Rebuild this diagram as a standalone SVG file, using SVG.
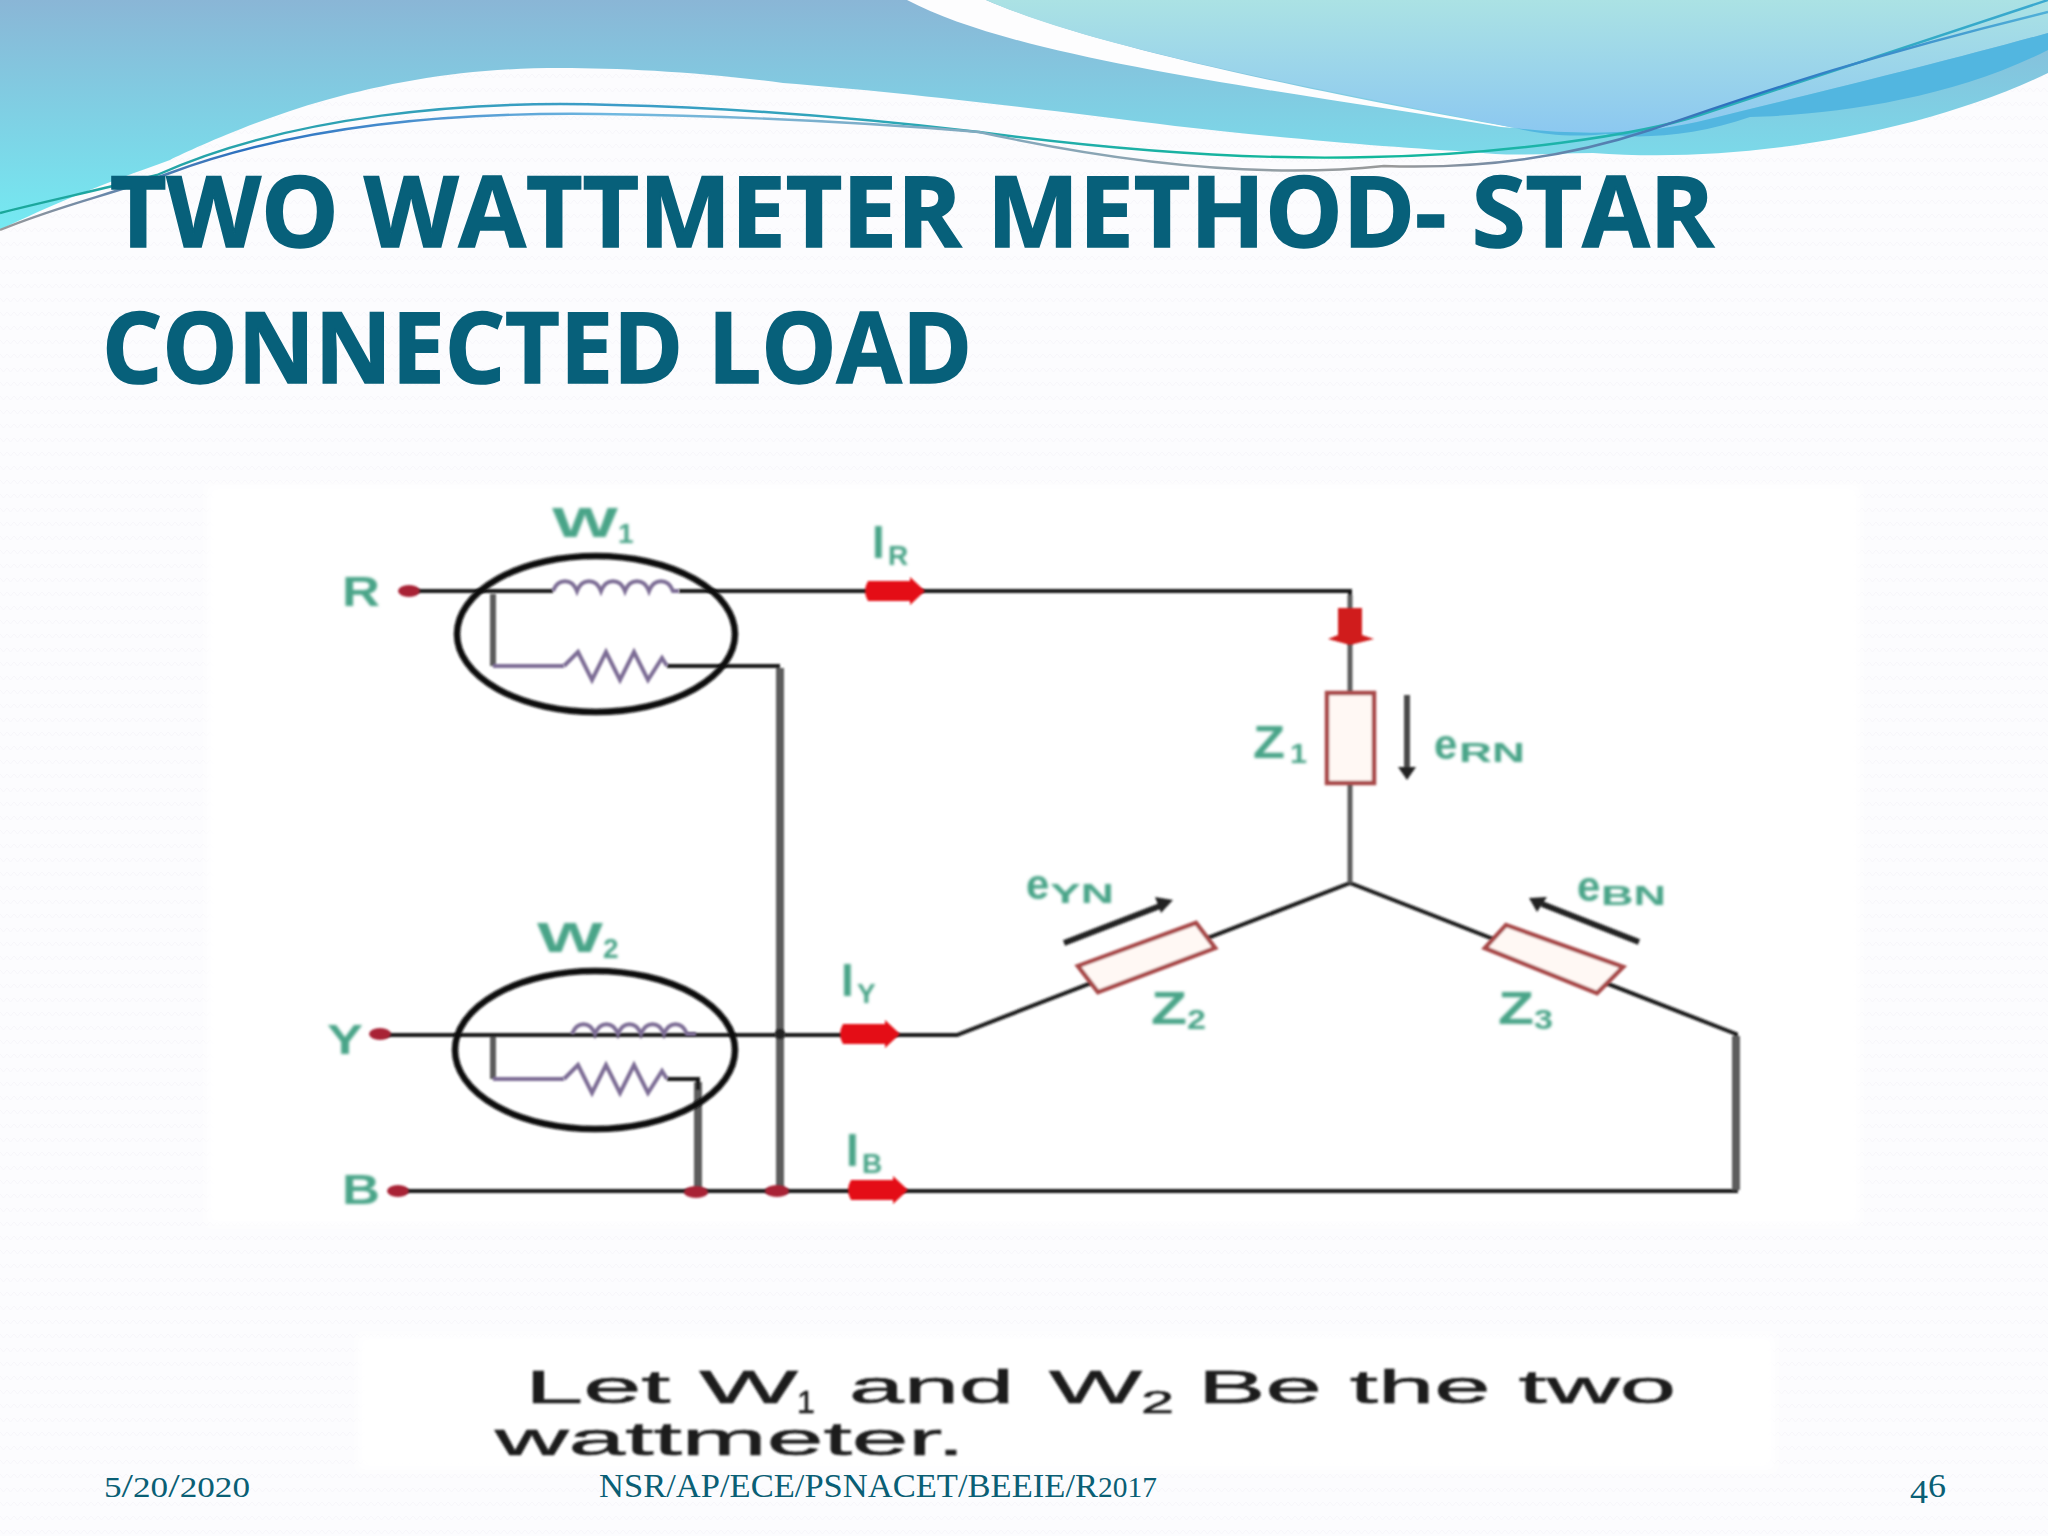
<svg xmlns="http://www.w3.org/2000/svg" width="2048" height="1536" viewBox="0 0 2048 1536">
<defs>
<linearGradient id="gMain" x1="0" y1="0" x2="0" y2="1"><stop offset="0" stop-color="#8ab6d6"/><stop offset="1" stop-color="#74eaf2"/></linearGradient>
<linearGradient id="gLight" x1="0" y1="0" x2="0" y2="1"><stop offset="0" stop-color="#abe2e4"/><stop offset="1" stop-color="#8cc8f0"/></linearGradient>
<linearGradient id="gLine" x1="0" y1="0" x2="1" y2="0"><stop offset="0" stop-color="#1aa89a"/><stop offset=".3" stop-color="#3d9cc8"/><stop offset=".65" stop-color="#10b898"/><stop offset="1" stop-color="#3aa8d0"/></linearGradient>
<linearGradient id="gLine2" x1="0" y1="0" x2="1" y2="0"><stop offset="0" stop-color="#999"/><stop offset=".12" stop-color="#2a70c0"/><stop offset=".3" stop-color="#70b8e0"/><stop offset=".68" stop-color="#999"/><stop offset=".85" stop-color="#2a70c0"/><stop offset="1" stop-color="#50b0d8"/></linearGradient>
<pattern id="tex" width="14" height="14" patternUnits="userSpaceOnUse"><path d="M0 4L3.500 8L7 4L10.500 8L14 4" fill="none" stroke="#f7f6fa" stroke-width="1"/></pattern>
<filter id="soft" x="-10%" y="-10%" width="120%" height="120%"><feGaussianBlur stdDeviation="1.300"/></filter>
<filter id="softer" x="-20%" y="-20%" width="140%" height="140%"><feGaussianBlur stdDeviation="1.800"/></filter>
<filter id="box" x="-5%" y="-5%" width="110%" height="110%"><feGaussianBlur stdDeviation="5"/></filter>
<g id="redArrow"><path d="M-27 -10H15V-14L30 0L15 14V10H-27Q-33 0 -27 -10Z" fill="#e40e14"/></g>
</defs>
<style>
.w{fill:none;stroke:#141414;stroke-width:4}
.g{fill:none;stroke:#5c5c5c;stroke-width:8}
.p{fill:none;stroke:#7c6c94;stroke-width:4}
.m{fill:none;stroke:#101010;stroke-width:6.500}
.z{fill:#fff8f4;stroke:#a84848;stroke-width:4.500}
.l{font-family:"Liberation Sans",Arial,sans-serif;font-weight:bold;fill:#4aa488}
.s{font-size:28px}
.b{font-size:42px}
.i{font-size:46px}
.d{fill:#a82436}
.c{font-family:"Liberation Sans",Arial,sans-serif;fill:#1c1c1c;stroke:#1c1c1c;stroke-width:.6px;font-size:46px}
.t{font-family:"Open Sans",Arial,sans-serif;font-weight:700;font-size:98px;fill:#07607a;stroke:#07607a;stroke-width:1.500px}
.f{font-family:"Liberation Serif",serif;font-size:34px;fill:#0a5f75}
.n{font-size:29px}
</style>
<rect width="2048" height="1536" fill="#fcfcfe"/>
<rect width="2048" height="1536" fill="url(#tex)"/>
<g id="header">
<path d="M0 0H2048V73C1930 130 1750 165 1593 153C1550 153 1510 157 1475 152C1400 148 1300 140 1175 126C1050 110 900 92 783 83C700 72 620 68 561 68C470 68 400 80 326 100C260 118 190 150 170 160C100 185 50 205 0 230Z" fill="url(#gMain)"/>
<path d="M907 0H986C1080 40 1250 80 1515 128L1501 127C1280 90 1020 60 907 0Z" fill="#fdfdfe"/>
<path d="M986 0H2048V33C1950 60 1850 85 1697 122C1640 135 1570 135 1515 128C1300 85 1100 50 986 0Z" fill="url(#gLight)"/>
<path d="M1515 128C1570 135 1640 135 1697 122C1850 85 1950 60 2048 33V50C1950 100 1830 115 1750 117C1700 135 1640 140 1606 134C1570 138 1540 134 1515 128Z" fill="#52b6e0"/>
</g>
<g id="swooshes" fill="none" stroke-width="2.400">
<path d="M0 213C50 200 100 190 157 175C290 115 470 100 614 105C740 108 860 118 979 132C1130 152 1260 160 1371 157C1500 155 1640 135 1700 115C1790 85 1900 50 2048 0" stroke="url(#gLine)"/>
<path d="M0 230C60 205 110 195 170 173C300 125 450 112 600 114C730 116 860 122 979 132C1130 165 1270 178 1384 166C1500 170 1590 150 1650 130C1740 100 1850 60 2048 12" stroke="url(#gLine2)"/>
</g>
<text id="title1" class="t" x="110" y="247" textLength="1604" lengthAdjust="spacingAndGlyphs">TWO WATTMETER METHOD- STAR</text>
<text id="title2" class="t" x="102" y="383" textLength="870" lengthAdjust="spacingAndGlyphs">CONNECTED LOAD</text>
<rect x="207" y="485" width="1653" height="740" fill="#fff" filter="url(#box)"/>
<rect x="358" y="1335" width="1417" height="135" fill="#fff" filter="url(#box)"/>
<g id="connectors" filter="url(#soft)">
<path class="w" d="M409 591H553M679 591H1350V693M1350 783V883L957 1035H380M1350 883L1736 1034V1191H398"/>
<path class="g" d="M780 668V1191M698 1082V1191M1736 1036V1190"/>
<path class="g" d="M1350 595V693M1350 783V883" style="stroke-width:5"/>
<path class="w" d="M667 666H780M667 1079H698V1090"/>
<path class="g" d="M493 594V666M493 1037V1079" style="stroke-width:6"/>
<path class="p" d="M493 666H564M493 1079H564"/>
</g>
<g id="meter-w1" filter="url(#soft)">
<ellipse class="m" cx="596" cy="634" rx="139" ry="78"/>
<path class="p" d="M553 591C558 578 572 578 577 591C582 578 596 578 601 591C606 578 620 578 625 591C630 578 644 578 649 591C654 578 668 578 673 591H679"/>
<path class="p" d="M564 666L578 652L592 680L606 652L620 680L634 652L648 680L662 658L667 666"/>
</g>
<g filter="url(#softer)"><text class="l b" x="552" y="537" textLength="66" lengthAdjust="spacingAndGlyphs">W</text><text class="l s" x="618" y="543">1</text></g>
<g id="meter-w2" filter="url(#soft)">
<ellipse class="m" cx="595" cy="1050" rx="140" ry="79"/>
<path class="p" d="M572 1034C577 1021 590 1021 595 1034C600 1021 613 1021 618 1034C623 1021 636 1021 641 1034C646 1021 659 1021 664 1034C669 1021 682 1021 687 1034H696"/>
<path class="p" d="M564 1079L578 1065L592 1093L606 1065L620 1093L634 1065L648 1093L662 1071L667 1079"/>
</g>
<g filter="url(#softer)"><text class="l b" x="537" y="952" textLength="66" lengthAdjust="spacingAndGlyphs">W</text><text class="l s" x="603" y="958">2</text></g>
<g id="terminal-r"><g filter="url(#soft)"><ellipse class="d" cx="409" cy="591" rx="11" ry="6"/></g><text filter="url(#softer)" class="l b" x="342" y="606" textLength="38" lengthAdjust="spacingAndGlyphs">R</text></g>
<g id="terminal-y"><g filter="url(#soft)"><ellipse class="d" cx="380" cy="1034" rx="11" ry="6"/></g><text filter="url(#softer)" class="l b" x="327" y="1054" textLength="36" lengthAdjust="spacingAndGlyphs">Y</text></g>
<g id="terminal-b"><g filter="url(#soft)"><ellipse class="d" cx="398" cy="1191" rx="11" ry="6"/><ellipse class="d" cx="696" cy="1192" rx="12" ry="6"/><ellipse class="d" cx="777" cy="1191" rx="12" ry="6"/><circle cx="780" cy="1034" r="5" fill="#222"/></g><text filter="url(#softer)" class="l b" x="342" y="1204" textLength="38" lengthAdjust="spacingAndGlyphs">B</text></g>
<g id="current-r"><use filter="url(#soft)" href="#redArrow" x="895" y="591"/><g filter="url(#softer)"><text class="l i" x="872" y="558">I</text><text class="l s" x="888" y="565">R</text></g></g>
<g id="current-y"><use filter="url(#soft)" href="#redArrow" x="870" y="1034"/><g filter="url(#softer)"><text class="l i" x="841" y="996">I</text><text class="l s" x="857" y="1003">Y</text></g></g>
<g id="current-b"><use filter="url(#soft)" href="#redArrow" x="878" y="1190"/><g filter="url(#softer)"><text class="l i" x="846" y="1166">I</text><text class="l s" x="862" y="1173">B</text></g></g>
<g id="current-1" filter="url(#soft)"><path d="M1338 608H1362V635L1374 639L1350 645L1328 639L1338 635Z" fill="#d01a1a"/></g>
<g id="z1"><rect filter="url(#soft)" class="z" x="1327" y="693" width="47" height="90"/>
<g filter="url(#softer)"><text class="l i" x="1253" y="758" textLength="32" lengthAdjust="spacingAndGlyphs">Z</text><text class="l s" x="1290" y="763" textLength="17" lengthAdjust="spacingAndGlyphs">1</text></g>
<g filter="url(#soft)"><path d="M1407 695V768" stroke="#4a4a4a" stroke-width="6"/><path d="M1398 767H1416L1407 780Z" fill="#222"/></g>
<g filter="url(#softer)"><text class="l b" x="1434" y="759">e</text><text class="l s" x="1459" y="762" textLength="66" lengthAdjust="spacingAndGlyphs">RN</text></g></g>
<g id="z2"><path filter="url(#soft)" class="z" d="M1078 966L1196 923L1215 948L1098 992Z"/>
<g filter="url(#softer)"><text class="l i" x="1151" y="1024" textLength="36" lengthAdjust="spacingAndGlyphs">Z</text><text class="l s" x="1187" y="1029" textLength="19" lengthAdjust="spacingAndGlyphs">2</text></g>
<g filter="url(#soft)"><path d="M1064 943L1160 906" stroke="#222" stroke-width="6"/><path d="M1155 897L1173 900L1161 913Z" fill="#222"/></g>
<g filter="url(#softer)"><text class="l b" x="1026" y="899">e</text><text class="l s" x="1050" y="903" textLength="64" lengthAdjust="spacingAndGlyphs">YN</text></g></g>
<g id="z3"><path filter="url(#soft)" class="z" d="M1485 948L1506 925L1623 967L1597 993Z"/>
<g filter="url(#softer)"><text class="l i" x="1498" y="1024" textLength="36" lengthAdjust="spacingAndGlyphs">Z</text><text class="l s" x="1534" y="1029" textLength="19" lengthAdjust="spacingAndGlyphs">3</text></g>
<g filter="url(#soft)"><path d="M1639 942L1542 904" stroke="#222" stroke-width="6"/><path d="M1529 898L1547 897L1537 912Z" fill="#222"/></g>
<g filter="url(#softer)"><text class="l b" x="1577" y="901">e</text><text class="l s" x="1601" y="905" textLength="65" lengthAdjust="spacingAndGlyphs">BN</text></g></g>
<g id="caption" filter="url(#soft)">
<text class="c" x="525" y="1403" textLength="273" lengthAdjust="spacingAndGlyphs">Let W</text>
<text class="c" x="797" y="1413" style="font-size:32px">1</text>
<text class="c" x="849" y="1403" textLength="165" lengthAdjust="spacingAndGlyphs">and</text>
<text class="c" x="1049" y="1403" textLength="93" lengthAdjust="spacingAndGlyphs">W</text>
<text class="c" x="1141" y="1413" style="font-size:32px" textLength="33" lengthAdjust="spacingAndGlyphs">2</text>
<text class="c" x="1198" y="1403" textLength="478" lengthAdjust="spacingAndGlyphs">Be the two</text>
<text class="c" x="495" y="1455" textLength="470" lengthAdjust="spacingAndGlyphs">wattmeter.</text>
</g>
<g id="footer">
<text class="f" x="104" y="1497" textLength="146" lengthAdjust="spacingAndGlyphs"><tspan class="n">5</tspan>/<tspan class="n">20</tspan>/<tspan class="n">2020</tspan></text>
<text class="f" x="599" y="1497" textLength="558" lengthAdjust="spacingAndGlyphs">NSR/AP/ECE/PSNACET/BEEIE/R<tspan class="n">2017</tspan></text>
<text class="f" x="1910" y="1497" textLength="36" lengthAdjust="spacingAndGlyphs"><tspan dy="6">4</tspan><tspan dy="-6">6</tspan></text>
</g>
</svg>
